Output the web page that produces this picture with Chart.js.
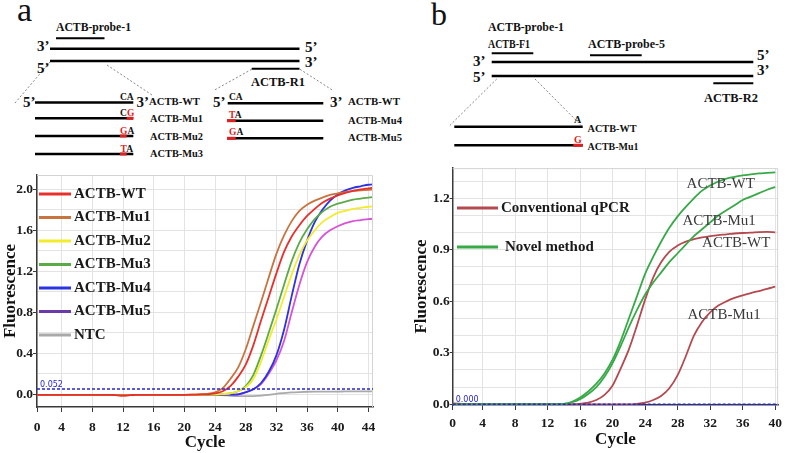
<!DOCTYPE html>
<html>
<head>
<meta charset="utf-8">
<script src="https://cdn.jsdelivr.net/npm/chart.js@4.4.1/dist/chart.umd.min.js"></script>
<style>
  html, body { margin: 0; padding: 0; background: #fff; }
  #fig { position: relative; width: 787px; height: 453px; overflow: hidden; }
  #diagram { position: absolute; left: 0; top: 0; }
  #chartA { position: absolute; left: 0; top: 165px; }
  #chartB { position: absolute; left: 400px; top: 160px; }
  .b { font-weight: bold; }
</style>
</head>
<body>
<div id="fig">
<svg id="diagram" width="787" height="165" viewBox="0 0 787 165" font-family="'Liberation Serif','Times New Roman',serif" fill="#111">
  <!-- panel a: primers / probe layout -->
  <text x="17" y="21" font-size="34">a</text>
  <text class="b" x="56" y="30.5" font-size="12" textLength="75" lengthAdjust="spacingAndGlyphs">ACTB-probe-1</text>
  <g stroke="#000" stroke-width="2.5">
    <line x1="56" y1="38.3" x2="104.5" y2="38.3" stroke-width="2"/>
    <line x1="50" y1="48.8" x2="299.5" y2="48.8"/>
    <line x1="50" y1="61" x2="299.5" y2="61"/>
    <line x1="251.7" y1="68.7" x2="299.5" y2="68.7" stroke-width="2"/>
    <line x1="35" y1="102.5" x2="133.3" y2="102.5"/>
    <line x1="35" y1="118.3" x2="133.3" y2="118.3"/>
    <line x1="35" y1="136" x2="133.3" y2="136"/>
    <line x1="35" y1="154" x2="133.3" y2="154"/>
    <line x1="227.7" y1="103.3" x2="323.3" y2="103.3"/>
    <line x1="227" y1="120.7" x2="323.3" y2="120.7"/>
    <line x1="227" y1="138.3" x2="323.3" y2="138.3"/>
  </g>
  <g stroke="#e02020" stroke-width="3">
    <line x1="126.7" y1="118.3" x2="133.3" y2="118.3"/>
    <line x1="120" y1="136" x2="126.7" y2="136"/>
    <line x1="120" y1="154" x2="126.7" y2="154"/>
    <line x1="227" y1="120.7" x2="235.7" y2="120.7"/>
    <line x1="227" y1="138.3" x2="235.7" y2="138.3"/>
  </g>
  <g stroke="#666" stroke-width="0.8" stroke-dasharray="2 2">
    <line x1="50" y1="62" x2="15" y2="103"/>
    <line x1="107" y1="65" x2="152" y2="95"/>
    <line x1="251.7" y1="69.3" x2="213.3" y2="90.7"/>
    <line x1="300" y1="69.3" x2="333.3" y2="90.7"/>
  </g>
  <g class="b" font-size="15">
    <text x="37" y="50.5">3’</text>
    <text x="305" y="51.5">5’</text>
    <text x="37" y="73">5’</text>
    <text x="305" y="66.5">3’</text>
    <text x="23" y="107">5’</text>
    <text x="136.5" y="107">3’</text>
    <text x="213" y="107">5’</text>
    <text x="330" y="107">3’</text>
  </g>
  <text class="b" x="251" y="86" font-size="13.5" textLength="54" lengthAdjust="spacingAndGlyphs">ACTB-R1</text>
  <g class="b" font-size="9.5">
    <text x="120" y="99.5">CA</text>
    <text x="120" y="116">C<tspan fill="#e02020">G</tspan></text>
    <text x="120" y="133.5"><tspan fill="#e02020">G</tspan>A</text>
    <text x="120.5" y="151.5"><tspan fill="#e02020">T</tspan>A</text>
    <text x="229" y="100">CA</text>
    <text x="229" y="117.5"><tspan fill="#e02020">T</tspan>A</text>
    <text x="229" y="135"><tspan fill="#e02020">G</tspan>A</text>
  </g>
  <g class="b" font-size="10">
    <text x="149" y="105" textLength="51" lengthAdjust="spacingAndGlyphs">ACTB-WT</text>
    <text x="150" y="122" textLength="53" lengthAdjust="spacingAndGlyphs">ACTB-Mu1</text>
    <text x="150" y="139.5" textLength="53" lengthAdjust="spacingAndGlyphs">ACTB-Mu2</text>
    <text x="150" y="157" textLength="53" lengthAdjust="spacingAndGlyphs">ACTB-Mu3</text>
    <text x="348" y="105" textLength="52" lengthAdjust="spacingAndGlyphs">ACTB-WT</text>
    <text x="348" y="124" textLength="54" lengthAdjust="spacingAndGlyphs">ACTB-Mu4</text>
    <text x="348" y="141" textLength="54" lengthAdjust="spacingAndGlyphs">ACTB-Mu5</text>
  </g>

  <!-- panel b -->
  <text x="431" y="25" font-size="32">b</text>
  <g class="b" font-size="12">
    <text x="488" y="30.5" textLength="76" lengthAdjust="spacingAndGlyphs">ACTB-probe-1</text>
    <text x="488" y="48" textLength="42" lengthAdjust="spacingAndGlyphs">ACTB-F1</text>
    <text x="588" y="48" textLength="77" lengthAdjust="spacingAndGlyphs">ACTB-probe-5</text>
  </g>
  <g stroke="#000" stroke-width="2.5">
    <line x1="491.7" y1="53.3" x2="533.3" y2="53.3" stroke-width="2"/>
    <line x1="590" y1="55.3" x2="641.7" y2="55.3" stroke-width="2"/>
    <line x1="491.7" y1="62" x2="753.3" y2="62"/>
    <line x1="491.7" y1="76" x2="753.3" y2="76"/>
    <line x1="713.3" y1="83.3" x2="753.3" y2="83.3" stroke-width="2"/>
    <line x1="454.3" y1="126.7" x2="582.7" y2="126.7"/>
    <line x1="454.3" y1="145.3" x2="582.7" y2="145.3"/>
  </g>
  <line x1="573.3" y1="145.3" x2="582.7" y2="145.3" stroke="#e02020" stroke-width="3"/>
  <g stroke="#666" stroke-width="0.8" stroke-dasharray="2 2">
    <line x1="496.7" y1="79" x2="449.3" y2="126"/>
    <line x1="535" y1="79" x2="581.7" y2="126"/>
  </g>
  <g class="b" font-size="15">
    <text x="473" y="66">3’</text>
    <text x="757" y="60">5’</text>
    <text x="473" y="81.5">5’</text>
    <text x="757" y="75">3’</text>
  </g>
  <text class="b" x="704" y="101.5" font-size="13.5" textLength="54" lengthAdjust="spacingAndGlyphs">ACTB-R2</text>
  <g class="b" font-size="10">
    <text x="574" y="123">A</text>
    <text x="574" y="142.5" fill="#e02020">G</text>
    <text x="587.5" y="131.5" textLength="49" lengthAdjust="spacingAndGlyphs">ACTB-WT</text>
    <text x="587.5" y="150" textLength="51" lengthAdjust="spacingAndGlyphs">ACTB-Mu1</text>
  </g>
</svg>
<canvas id="chartA" width="385" height="288"></canvas>
<canvas id="chartB" width="387" height="293"></canvas>
</div>

<script>
// ---- panel a: amplification curves (fluorescence per cycle) ----
const cyclesA = [0,1,2,3,4,5,6,7,8,9,10,11,12,13,14,15,16,17,18,19,20,21,22,23,24,25,26,27,28,29,30,31,32,33,34,35,36,37,38,39,40,41,42,43,44,45];
const actbWT  = [-0.005,-0.005,-0.005,-0.005,-0.005,-0.005,-0.005,-0.005,-0.005,-0.005,-0.005,-0.008,-0.012,-0.008,-0.005,-0.005,-0.005,-0.005,-0.005,-0.005,-0.005,-0.004,-0.002,0.0,0.01,0.03,0.08,0.17,0.29,0.48,0.72,0.95,1.18,1.39,1.54,1.65,1.74,1.81,1.87,1.91,1.94,1.965,1.985,2.0,2.01,2.02];
const actbMu1 = [-0.005,-0.005,-0.005,-0.005,-0.005,-0.005,-0.005,-0.005,-0.005,-0.005,-0.005,-0.007,-0.01,-0.007,-0.005,-0.005,-0.005,-0.005,-0.005,-0.005,-0.005,-0.004,0.0,0.005,0.02,0.06,0.15,0.26,0.44,0.67,0.9,1.14,1.37,1.55,1.69,1.79,1.85,1.89,1.92,1.945,1.96,1.975,1.985,1.99,1.995,2.0];
const actbMu2 = [-0.005,-0.005,-0.005,-0.005,-0.005,-0.005,-0.005,-0.005,-0.005,-0.005,-0.005,-0.006,-0.008,-0.006,-0.005,-0.005,-0.005,-0.005,-0.005,-0.005,-0.005,-0.005,-0.005,-0.004,-0.002,0.002,0.01,0.03,0.07,0.15,0.32,0.53,0.73,0.95,1.17,1.36,1.5,1.6,1.68,1.73,1.77,1.79,1.81,1.82,1.83,1.835];
const actbMu3 = [-0.005,-0.005,-0.005,-0.005,-0.005,-0.005,-0.005,-0.005,-0.005,-0.005,-0.005,-0.006,-0.008,-0.006,-0.005,-0.005,-0.005,-0.005,-0.005,-0.005,-0.005,-0.005,-0.005,-0.004,-0.002,0.002,0.01,0.03,0.08,0.19,0.38,0.6,0.83,1.07,1.3,1.48,1.61,1.71,1.78,1.83,1.86,1.88,1.9,1.91,1.92,1.925];
const actbMu4 = [-0.005,-0.005,-0.005,-0.005,-0.005,-0.005,-0.005,-0.005,-0.005,-0.005,-0.005,-0.006,-0.008,-0.006,-0.005,-0.005,-0.005,-0.005,-0.005,-0.005,-0.005,-0.005,-0.005,-0.005,-0.005,-0.004,-0.003,0.0,0.02,0.05,0.11,0.22,0.38,0.63,0.96,1.27,1.5,1.68,1.8,1.89,1.95,1.99,2.015,2.03,2.045,2.05];
const actbMu5 = [-0.005,-0.005,-0.005,-0.005,-0.005,-0.005,-0.005,-0.005,-0.005,-0.005,-0.005,-0.006,-0.008,-0.006,-0.005,-0.005,-0.005,-0.005,-0.005,-0.005,-0.005,-0.005,-0.005,-0.005,-0.005,-0.005,-0.004,-0.002,0.02,0.05,0.1,0.2,0.33,0.52,0.8,1.07,1.29,1.44,1.54,1.6,1.64,1.67,1.69,1.7,1.71,1.715];
const ntc     = [-0.005,-0.005,-0.005,-0.005,-0.005,-0.005,-0.005,-0.005,-0.005,-0.005,-0.006,-0.009,-0.012,-0.009,-0.005,-0.005,-0.005,-0.005,-0.005,-0.005,-0.005,-0.005,-0.005,-0.005,-0.005,-0.008,-0.015,-0.018,-0.018,-0.017,-0.012,-0.005,0.005,0.012,0.018,0.022,0.025,0.026,0.026,0.027,0.027,0.028,0.028,0.028,0.028,0.028];
const seriesNamesA = ['ACTB-WT','ACTB-Mu1','ACTB-Mu2','ACTB-Mu3','ACTB-Mu4','ACTB-Mu5','NTC'];
const thresholdA = 0.052;
const xTicksA = [4,8,12,16,20,24,28,32,36,40,44];
const xLabelsA = ['0','4','8','12','16','20','24','28','32','36','40','44'];
const yTicksA = [0,0.2,0.4,0.6,0.8,1.0,1.2,1.4,1.6,1.8,2.0];
const yLabelsA = ['0.0','','0.4','','0.8','','1.2','','1.6','','2.0'];

// ---- panel b: conventional qPCR vs novel method ----
const cyclesB = [0,1,2,3,4,5,6,7,8,9,10,11,12,13,14,15,16,17,18,19,20,21,22,23,24,25,26,27,28,29,30,31,32,33,34,35,36,37,38,39,40];
const convWT  = [0.006,0.004,0.002,0,0,0,0,0,0,0,0,0,0,0,0,0,0.003,0.01,0.025,0.055,0.11,0.21,0.32,0.46,0.61,0.74,0.83,0.89,0.925,0.948,0.962,0.972,0.98,0.986,0.99,0.995,0.998,1.0,1.003,1.004,1.002];
const convMu1 = [0,0,0,0,0,0,0,0,0,0,0,0,0,0,0,0,0,0,0,0,0,0,0,0.003,0.01,0.025,0.05,0.095,0.17,0.28,0.4,0.48,0.535,0.575,0.6,0.62,0.635,0.648,0.66,0.672,0.685];
const novelWT  = [0,0,0,0,0,0,0,0,0,0,0,0,0,0,0.003,0.015,0.04,0.075,0.12,0.18,0.26,0.37,0.5,0.63,0.76,0.86,0.95,1.03,1.095,1.15,1.2,1.245,1.275,1.298,1.315,1.325,1.333,1.34,1.345,1.348,1.351];
const novelMu1 = [0,0,0,0,0,0,0,0,0,0,0,0,0,0,0.002,0.012,0.03,0.06,0.1,0.16,0.24,0.34,0.45,0.55,0.64,0.71,0.77,0.83,0.88,0.93,0.98,1.02,1.06,1.1,1.13,1.16,1.19,1.21,1.23,1.25,1.265];
const methodNames = ['Conventional qPCR','Novel method'];
const thresholdB = 0;
const xTicksB = [4,8,12,16,20,24,28,32,36,40];
const xLabelsB = ['0','4','8','12','16','20','24','28','32','36','40'];
const yTicksB = [0,0.1,0.2,0.3,0.4,0.5,0.6,0.7,0.8,0.9,1.0,1.1,1.2,1.3];
const yLabelsB = ['0.0','','','0.3','','','0.6','','','0.9','','','1.2',''];

const serif = "'Liberation Serif','Times New Roman',serif";
const tickFont = { family: serif, size: 13.5, weight: 'bold' };
const titleFont = { family: serif, size: 17, weight: 'bold' };
const gridColor = '#e3e3e3';
const axisColor = '#3a3a3a';

function pts(xs, ys) {
  return xs.map((x, i) => ({ x: x, y: ys[i] }));
}

function curve(label, xs, ys, color) {
  return {
    label: label, data: pts(xs, ys), borderColor: color, backgroundColor: color,
    borderWidth: 1.8, pointRadius: 0, fill: false, cubicInterpolationMode: 'monotone'
  };
}

// draws the inside-plot legend, threshold line, frame and text notes
function makeExtras(cfg) {
  return {
    id: 'extras',
    afterDatasetsDraw(chart) {
      const ctx = chart.ctx, a = chart.chartArea;
      const xs = chart.scales.x, ys = chart.scales.y;
      ctx.save();
      ctx.strokeStyle = '#d4d4d4';
      ctx.lineWidth = 1;
      ctx.beginPath();
      ctx.moveTo(a.left, a.top + 0.5);
      ctx.lineTo(a.right - 0.5, a.top + 0.5);
      ctx.lineTo(a.right - 0.5, a.bottom);
      ctx.stroke();

      const ty = ys.getPixelForValue(cfg.threshold);
      ctx.strokeStyle = '#2424d6';
      ctx.lineWidth = 1.5;
      ctx.setLineDash([3, 2]);
      ctx.beginPath();
      ctx.moveTo(a.left, ty);
      ctx.lineTo(a.right, ty);
      ctx.stroke();
      ctx.setLineDash([]);
      ctx.fillStyle = '#2424d6';
      ctx.font = '8px "DejaVu Sans"';
      ctx.textAlign = 'left';
      ctx.textBaseline = 'bottom';
      ctx.fillText(cfg.thresholdLabel, a.left + 3, ty - 0.5);

      ctx.textBaseline = 'middle';
      cfg.legend.forEach((row, i) => {
        const y = a.top + cfg.legendTop + i * cfg.legendStep;
        ctx.strokeStyle = row.color;
        ctx.lineWidth = 3;
        ctx.beginPath();
        ctx.moveTo(a.left + cfg.lineFrom, y);
        ctx.lineTo(a.left + cfg.lineTo, y);
        ctx.stroke();
        ctx.fillStyle = '#1a1a1a';
        ctx.font = 'bold ' + cfg.legendSize + 'px ' + serif;
        ctx.fillText(row.text, a.left + (row.textX || cfg.textX), y);
      });

      (cfg.notes || []).forEach(n => {
        ctx.fillStyle = '#3a3a3a';
        ctx.font = '15px ' + serif;
        ctx.fillText(n.text, xs.getPixelForValue(n.x), ys.getPixelForValue(n.y));
      });
      ctx.restore();
    }
  };
}

function scalesFor(o) {
  return {
    x: {
      type: 'linear', min: o.xMin, max: o.xMax,
      afterBuildTicks: s => { s.ticks = [o.xMin].concat(o.xTicks).map(v => ({ value: v })); },
      afterFit: s => { s.height = o.xHeight; },
      ticks: { autoSkip: false, maxRotation: 0, padding: o.xPad, color: '#1a1a1a', font: tickFont,
               callback: (v, i) => o.xLabels[i] },
      grid: { color: gridColor, tickLength: 5, tickColor: axisColor },
      border: { color: axisColor, width: 1.5 },
      title: { display: true, text: 'Cycle', color: '#111', font: titleFont, padding: { top: 0, bottom: o.xTitlePad } }
    },
    y: {
      type: 'linear', min: o.yMin, max: o.yMax,
      afterBuildTicks: s => { s.ticks = o.yTicks.map(v => ({ value: v })); },
      afterFit: s => { s.width = o.yWidth; },
      ticks: { autoSkip: false, padding: 0, color: '#1a1a1a', font: tickFont,
               callback: (v, i) => o.yLabels[i] },
      grid: { color: gridColor, tickLength: o.yTick,
              tickColor: c => (o.yLabels[c.index] ? axisColor : 'rgba(0,0,0,0)') },
      border: { color: axisColor, width: 1.5 },
      title: { display: true, text: 'Fluorescence', color: '#111', font: titleFont, padding: { top: o.yTitlePad, bottom: 0 } }
    }
  };
}

const colorsA = ['#e8302a', '#c9733e', '#f2ec2c', '#5aab45', '#2b33e2', '#d653d8', '#a9a9a9'];
const legendColorsA = ['#e8302a', '#c9733e', '#f2ec2c', '#5aab45', '#2b33e2', '#6b3aa9', '#a9a9a9'];
const seriesA = [actbWT, actbMu1, actbMu2, actbMu3, actbMu4, actbMu5, ntc];

new Chart(document.getElementById('chartA'), {
  type: 'line',
  data: { datasets: seriesA.map((s, i) => curve(seriesNamesA[i], cyclesA, s, colorsA[i])) },
  options: {
    responsive: false, animation: false,
    layout: { autoPadding: false, padding: { top: 10, right: 12, left: 0, bottom: 0 } },
    plugins: { legend: { display: false }, tooltip: { enabled: false } },
    scales: scalesFor({
      xMin: 0.78, xMax: 44.6, xTicks: xTicksA, xLabels: xLabelsA, xHeight: 46, xPad: 7, xTitlePad: 0,
      yMin: -0.124, yMax: 2.14, yTicks: yTicksA, yLabels: yLabelsA, yWidth: 37, yTick: 4, yTitlePad: 0
    })
  },
  plugins: [makeExtras({
    threshold: thresholdA, thresholdLabel: thresholdA.toFixed(3),
    legend: seriesNamesA.map((n, i) => ({ text: n, color: legendColorsA[i] })),
    legendTop: 19, legendStep: 23.5, lineFrom: 2, lineTo: 34, textX: 37, legendSize: 15
  })]
});

const convColor = '#b44a50';
const novelColor = '#37a947';

new Chart(document.getElementById('chartB'), {
  type: 'line',
  data: { datasets: [
    curve('Novel method ACTB-WT', cyclesB, novelWT, novelColor),
    curve('Novel method ACTB-Mu1', cyclesB, novelMu1, novelColor),
    curve('Conventional qPCR ACTB-WT', cyclesB, convWT, convColor),
    curve('Conventional qPCR ACTB-Mu1', cyclesB, convMu1, convColor)
  ] },
  options: {
    responsive: false, animation: false,
    layout: { autoPadding: false, padding: { top: 8, right: 4, left: 0, bottom: 0 } },
    plugins: { legend: { display: false }, tooltip: { enabled: false } },
    scales: scalesFor({
      xMin: 0.33, xMax: 40.36, xTicks: xTicksB, xLabels: xLabelsB, xHeight: 48, xPad: 5, xTitlePad: 2.8,
      yMin: -0.004, yMax: 1.376, yTicks: yTicksB, yLabels: yLabelsB, yWidth: 52.7, yTick: 3, yTitlePad: 11.3
    })
  },
  plugins: [makeExtras({
    threshold: thresholdB, thresholdLabel: thresholdB.toFixed(3),
    legend: [
      { text: methodNames[0], color: convColor, textX: 48.3 },
      { text: methodNames[1], color: novelColor, textX: 52.3 }
    ],
    legendTop: 40, legendStep: 39, lineFrom: 4.3, lineTo: 45.3, textX: 48.3, legendSize: 15,
    notes: [
      { text: 'ACTB-WT', x: 29.1, y: 1.284 },
      { text: 'ACTB-Mu1', x: 28.6, y: 1.065 },
      { text: 'ACTB-WT', x: 31.0, y: 0.94 },
      { text: 'ACTB-Mu1', x: 29.2, y: 0.52 }
    ]
  })]
});
</script>
</body>
</html>
